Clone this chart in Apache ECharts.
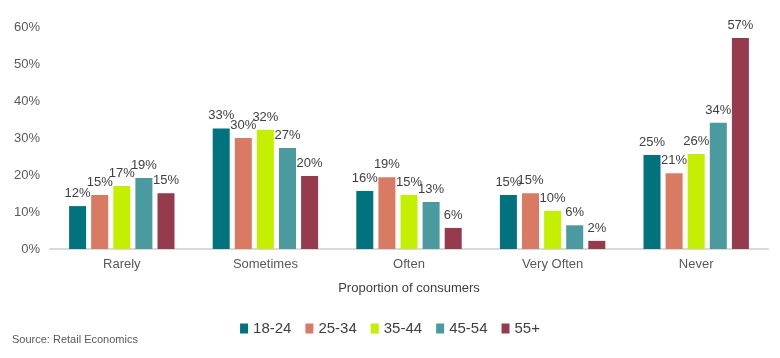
<!DOCTYPE html>
<html><head><meta charset="utf-8">
<script src="https://cdn.jsdelivr.net/npm/echarts@6/dist/echarts.min.js"></script>
<style>html,body{margin:0;padding:0;background:#fff}#c{width:780px;height:358px}</style>
</head><body><div id="c"></div>
<script>
const categories = ['Rarely','Sometimes','Often','Very Often','Never'];
const seriesNames = ['18-24','25-34','35-44','45-54','55+'];
const s1824 = [11.6, 32.6, 15.7, 14.6, 25.4];
const s2534 = [14.6, 30.0, 19.4, 15.1, 20.5];
const s3544 = [17.0, 32.2, 14.6, 10.3, 25.7];
const s4554 = [19.2, 27.3, 12.7, 6.4, 34.1];
const s55 = [15.1, 19.7, 5.7, 2.2, 57.0];
const yTicks = [0,10,20,30,40,50,60];
const colors = ['#00737F','#D97B63','#C4F000','#4A9AA0','#963A4D'];
const allData = [s1824, s2534, s3544, s4554, s55];

const chart = echarts.init(document.getElementById('c'));
chart.setOption({
  animation:false,
  textStyle:{fontFamily:'Liberation Sans, Arial, sans-serif'},
  grid:{left:50,right:12,top:27,bottom:109},
  legend:{data:seriesNames,top:316,left:'center',itemWidth:8,itemHeight:10,itemGap:14,
    textStyle:{fontSize:15,color:'#404040'},icon:'rect'},
  graphic:[{type:'text',left:12,top:334,style:{text:'Source: Retail Economics',fontSize:11,fill:'#595959',fontFamily:'Liberation Sans, Arial, sans-serif'}}],
  xAxis:{type:'category',data:categories,
    name:'Proportion of consumers',nameLocation:'middle',nameGap:33,
    nameTextStyle:{fontSize:13,color:'#404040'},
    axisLine:{lineStyle:{color:'#D9D9D9',width:2}},axisTick:{show:false},
    axisLabel:{fontSize:13,color:'#595959',margin:9}},
  yAxis:{type:'value',min:yTicks[0],max:yTicks[yTicks.length-1],interval:10,
    splitLine:{show:false},axisLine:{show:false},axisTick:{show:false},
    axisLabel:{formatter:v=>v+'%',fontSize:13,color:'#595959',margin:10}},
  series:seriesNames.map((n,i)=>({
    name:n,type:'bar',data:allData[i],barWidth:17,barGap:'30%',
    itemStyle:{color:colors[i]},
    label:{show:true,position:'top',distance:6,fontSize:13,color:'#404040',
      formatter:p=>Math.round(p.value)+'%'}
  }))
});
</script></body></html>
